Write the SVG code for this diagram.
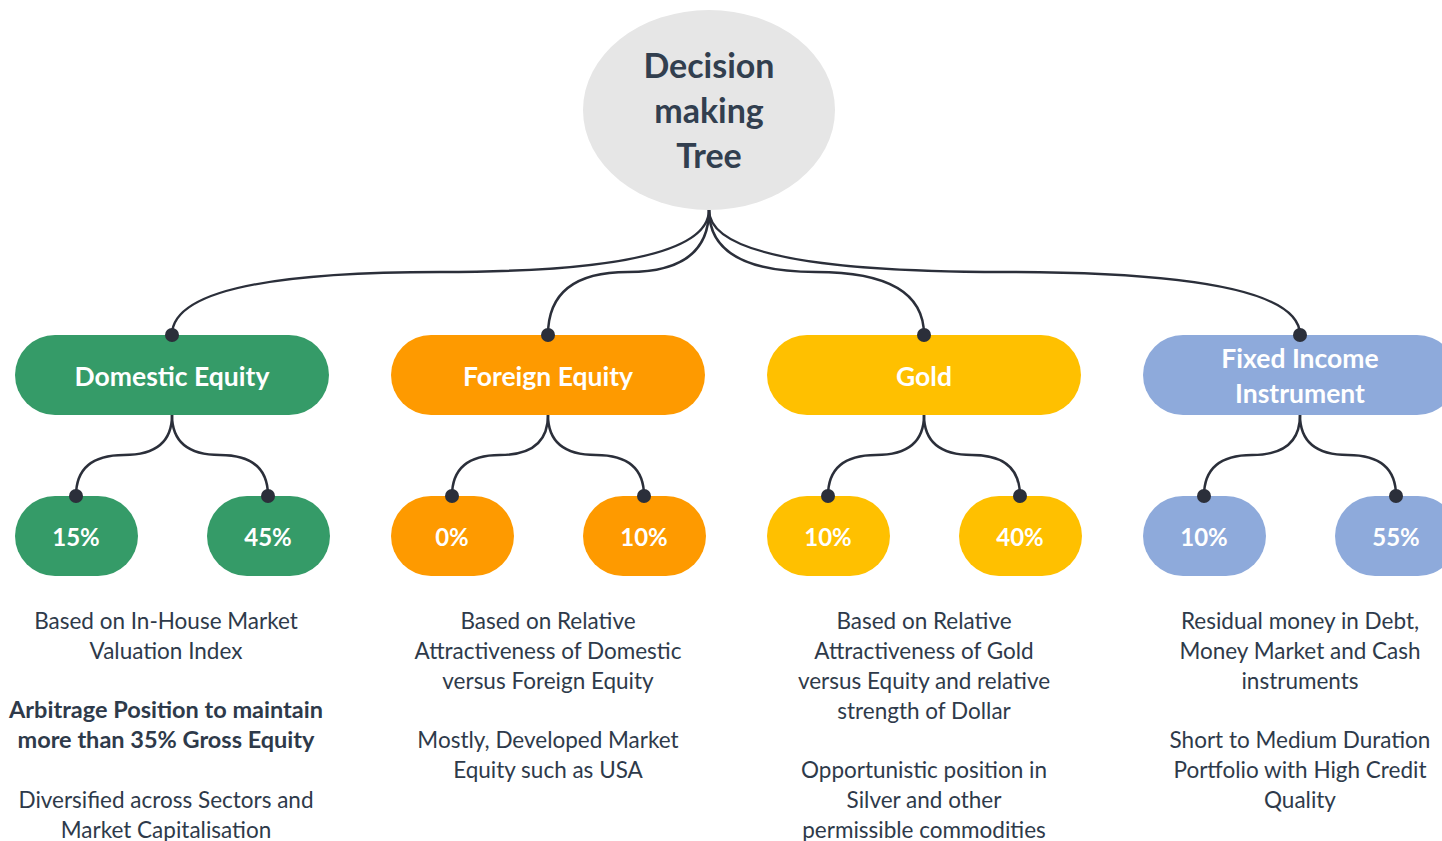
<svg xmlns="http://www.w3.org/2000/svg" width="1442" height="841" viewBox="0 0 1442 841">
  <style>
    .root { fill: #e6e6e6; }
    .title { font-family: Lato, "Noto Sans", sans-serif; font-weight: 700; font-size: 34px; fill: #323f4f; text-anchor: middle; }
    .lbl { font-family: Lato, "Noto Sans", sans-serif; font-weight: 700; font-size: 26.5px; fill: #ffffff; text-anchor: middle; }
    .pct { font-family: Lato, "Noto Sans", sans-serif; font-weight: 700; font-size: 24px; fill: #ffffff; text-anchor: middle; }
    .note { font-family: Lato, "Noto Sans", sans-serif; font-size: 22.5px; fill: #2e3a4a; text-anchor: middle; }
    .bold { font-weight: 700; font-size: 23.5px; }
    .green { fill: #359b68; }
    .orange { fill: #fe9a00; }
    .gold { fill: #ffc000; }
    .blue { fill: #8eaadb; }
    .edge { fill: none; stroke: #2b2f3a; stroke-width: 2.5; }
    .dot { fill: #2b2f3a; }
  </style>

  <!-- connectors -->
  <g id="connectors">
    <path class="edge" d="M709,210 Q709,272 440,272 Q172,272 172,335"/>
    <path class="edge" d="M709,210 Q709,272 628,272 Q548,272 548,335"/>
    <path class="edge" d="M709,210 Q709,272 816,272 Q924,272 924,335"/>
    <path class="edge" d="M709,210 Q709,272 1004,272 Q1300,272 1300,335"/>

    <path class="edge" d="M172,415 Q172,455 124,455 Q76,455 76,496"/>
    <path class="edge" d="M172,415 Q172,455 220,455 Q268,455 268,496"/>
    <path class="edge" d="M548,415 Q548,455 500,455 Q452,455 452,496"/>
    <path class="edge" d="M548,415 Q548,455 596,455 Q644,455 644,496"/>
    <path class="edge" d="M924,415 Q924,455 876,455 Q828,455 828,496"/>
    <path class="edge" d="M924,415 Q924,455 972,455 Q1020,455 1020,496"/>
    <path class="edge" d="M1300,415 Q1300,455 1252,455 Q1204,455 1204,496"/>
    <path class="edge" d="M1300,415 Q1300,455 1348,455 Q1396,455 1396,496"/>
  </g>

  <!-- root -->
  <g id="root">
    <ellipse class="root" cx="709" cy="110" rx="126" ry="100"/>
    <text class="title" x="709" y="78">Decision</text>
    <text class="title" x="709" y="123">making</text>
    <text class="title" x="709" y="168">Tree</text>
  </g>

  <!-- asset classes -->
  <g id="domestic-equity">
    <rect class="green" x="15" y="335" width="314" height="80" rx="40"/>
    <text class="lbl" x="172" y="386">Domestic Equity</text>
  </g>
  <g id="foreign-equity">
    <rect class="orange" x="391" y="335" width="314" height="80" rx="40"/>
    <text class="lbl" x="548" y="386">Foreign Equity</text>
  </g>
  <g id="gold">
    <rect class="gold" x="767" y="335" width="314" height="80" rx="40"/>
    <text class="lbl" x="924" y="386">Gold</text>
  </g>
  <g id="fixed-income">
    <rect class="blue" x="1143" y="335" width="314" height="80" rx="40"/>
    <text class="lbl" x="1300" y="368">Fixed Income</text>
    <text class="lbl" x="1300" y="403">Instrument</text>
  </g>

  <!-- allocation ranges -->
  <g id="domestic-min">
    <rect class="green" x="15" y="496" width="123" height="80" rx="40"/>
    <text class="pct" x="76" y="546">15%</text>
  </g>
  <g id="domestic-max">
    <rect class="green" x="207" y="496" width="123" height="80" rx="40"/>
    <text class="pct" x="268" y="546">45%</text>
  </g>
  <g id="foreign-min">
    <rect class="orange" x="391" y="496" width="123" height="80" rx="40"/>
    <text class="pct" x="452" y="546">0%</text>
  </g>
  <g id="foreign-max">
    <rect class="orange" x="583" y="496" width="123" height="80" rx="40"/>
    <text class="pct" x="644" y="546">10%</text>
  </g>
  <g id="gold-min">
    <rect class="gold" x="767" y="496" width="123" height="80" rx="40"/>
    <text class="pct" x="828" y="546">10%</text>
  </g>
  <g id="gold-max">
    <rect class="gold" x="959" y="496" width="123" height="80" rx="40"/>
    <text class="pct" x="1020" y="546">40%</text>
  </g>
  <g id="fixed-min">
    <rect class="blue" x="1143" y="496" width="123" height="80" rx="40"/>
    <text class="pct" x="1204" y="546">10%</text>
  </g>
  <g id="fixed-max">
    <rect class="blue" x="1335" y="496" width="123" height="80" rx="40"/>
    <text class="pct" x="1396" y="546">55%</text>
  </g>

  <!-- junction dots -->
  <g id="dots">
    <circle class="dot" cx="172" cy="335" r="7"/>
    <circle class="dot" cx="548" cy="335" r="7"/>
    <circle class="dot" cx="924" cy="335" r="7"/>
    <circle class="dot" cx="1300" cy="335" r="7"/>
    <circle class="dot" cx="76" cy="496" r="7"/>
    <circle class="dot" cx="268" cy="496" r="7"/>
    <circle class="dot" cx="452" cy="496" r="7"/>
    <circle class="dot" cx="644" cy="496" r="7"/>
    <circle class="dot" cx="828" cy="496" r="7"/>
    <circle class="dot" cx="1020" cy="496" r="7"/>
    <circle class="dot" cx="1204" cy="496" r="7"/>
    <circle class="dot" cx="1396" cy="496" r="7"/>
  </g>

  <!-- descriptions -->
  <g id="domestic-notes">
    <text class="note" x="166" y="629">Based on In-House Market</text>
    <text class="note" x="166" y="659">Valuation Index</text>
    <text class="note bold" x="166" y="718">Arbitrage Position to maintain</text>
    <text class="note bold" x="166" y="748">more than 35% Gross Equity</text>
    <text class="note" x="166" y="808">Diversified across Sectors and</text>
    <text class="note" x="166" y="838">Market Capitalisation</text>
  </g>
  <g id="foreign-notes">
    <text class="note" x="548" y="629">Based on Relative</text>
    <text class="note" x="548" y="659">Attractiveness of Domestic</text>
    <text class="note" x="548" y="689">versus Foreign Equity</text>
    <text class="note" x="548" y="748">Mostly, Developed Market</text>
    <text class="note" x="548" y="778">Equity such as USA</text>
  </g>
  <g id="gold-notes">
    <text class="note" x="924" y="629">Based on Relative</text>
    <text class="note" x="924" y="659">Attractiveness of Gold</text>
    <text class="note" x="924" y="689">versus Equity and relative</text>
    <text class="note" x="924" y="719">strength of Dollar</text>
    <text class="note" x="924" y="778">Opportunistic position in</text>
    <text class="note" x="924" y="808">Silver and other</text>
    <text class="note" x="924" y="838">permissible commodities</text>
  </g>
  <g id="fixed-notes">
    <text class="note" x="1300" y="629">Residual money in Debt,</text>
    <text class="note" x="1300" y="659">Money Market and Cash</text>
    <text class="note" x="1300" y="689">instruments</text>
    <text class="note" x="1300" y="748">Short to Medium Duration</text>
    <text class="note" x="1300" y="778">Portfolio with High Credit</text>
    <text class="note" x="1300" y="808">Quality</text>
  </g>
</svg>
